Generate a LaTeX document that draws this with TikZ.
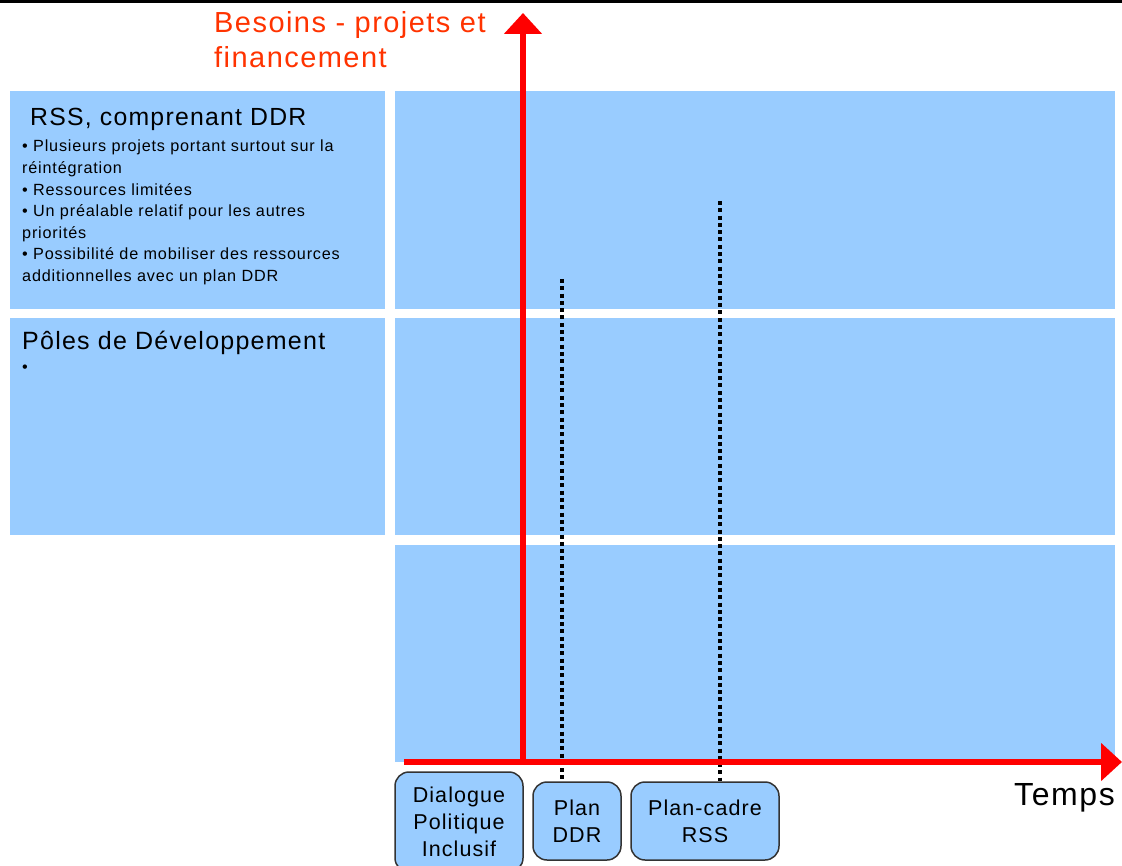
\documentclass[tikz,border=0pt]{standalone}
\usepackage{fontspec}
\setmainfont[LetterSpace=5]{Liberation Sans}
\usetikzlibrary{arrows.meta}

\definecolor{panelblue}{HTML}{99CCFF}
\definecolor{axisred}{HTML}{FF0000}
\definecolor{titlered}{HTML}{FF3300}
\definecolor{boxline}{HTML}{333333}

\tikzset{
  panel/.style={fill=panelblue},
  stagebox/.style={draw=boxline, line width=1.5pt, fill=panelblue, rounded corners=14pt,
    align=center, inner sep=0pt, font=\fontsize{21.5}{27}\selectfont},
  axis/.style={draw=axisred, line width=6.5pt, -{Triangle[width=37pt,length=21pt]}},
  milestone/.style={line width=3.5pt, dash pattern=on 4pt off 3.3pt},
  txt/.style={inner sep=0pt, align=left},
}

\begin{document}
\begin{tikzpicture}[x=1pt, y=-1pt]
  \clip (0,0) rectangle (1122,866);

  % Top rule
  \fill [black] (0,0) rectangle (1122,3);%

  % Panels on the left
  \fill [panel] (10,91) rectangle (385,309);%
  \fill [panel] (10,318) rectangle (385,535);%

  % Panels on the right
  \fill [panel] (395,91) rectangle (1115,309);%
  \fill [panel] (395,318) rectangle (1115,535);%
  \fill [panel] (395,545) rectangle (1115,762);%

  % Stage boxes under the time axis
  \node [stagebox, minimum width=128pt, minimum height=100pt] (dialogue) at (459,822)
    {Dialogue\\Politique\\Inclusif};%
  \node [stagebox, minimum width=88pt, minimum height=78pt] (planddr) at (577,821)
    {Plan\\DDR};%
  \node [stagebox, minimum width=148pt, minimum height=78pt] (planrss) at (705,821)
    {Plan-cadre\\RSS};%

  % Milestone lines
  \coordinate (ddrtop) at (562,279);
  \coordinate (rsstop) at (720,201);
  \draw [milestone] (ddrtop) -- (ddrtop |- planddr.north);%
  \draw [milestone] (rsstop) -- (rsstop |- planrss.north);%

  % Axes
  \coordinate (origin) at (523,762);
  \coordinate (xstart) at (404,762);
  \coordinate (xend) at (1122,762);
  \coordinate (yend) at (523,13);
  \draw [axis] (origin) -- (yend);%
  \draw [axis] (xstart) -- (xend);%

  % Axis labels
  \node [txt, anchor=base west, text=titlered, font=\fontsize{29}{35}\selectfont] (besoins) at (214,68)
    {Besoins - projets et\\financement};%
  \node [txt, anchor=base east, font=\fontsize{32}{36}\selectfont] (temps) at (1115,805) {Temps};%

  % Panel texts
  \node [txt, anchor=base west, font=\fontsize{24.8}{28}\selectfont] (rsstitle) at (30,126)
    {RSS, comprenant DDR};%
  \node [txt, anchor=north west, font=\fontsize{16.2}{21.6}\selectfont] (rsslist) at (22,140)
    {• Plusieurs projets portant surtout sur la\\réintégration\\• Ressources limitées\\%
     • Un préalable relatif pour les autres\\priorités\\• Possibilité de mobiliser des ressources\\%
     additionnelles avec un plan DDR};%
  \node [txt, anchor=base west, font=\fontsize{25}{28}\selectfont] (polestitle) at (22,350)
    {Pôles de Développement};%
  \node [txt, anchor=base west, font=\fontsize{16.2}{21.6}\selectfont] (poleslist) at (22,373)
    {•};%
\end{tikzpicture}
\end{document}
